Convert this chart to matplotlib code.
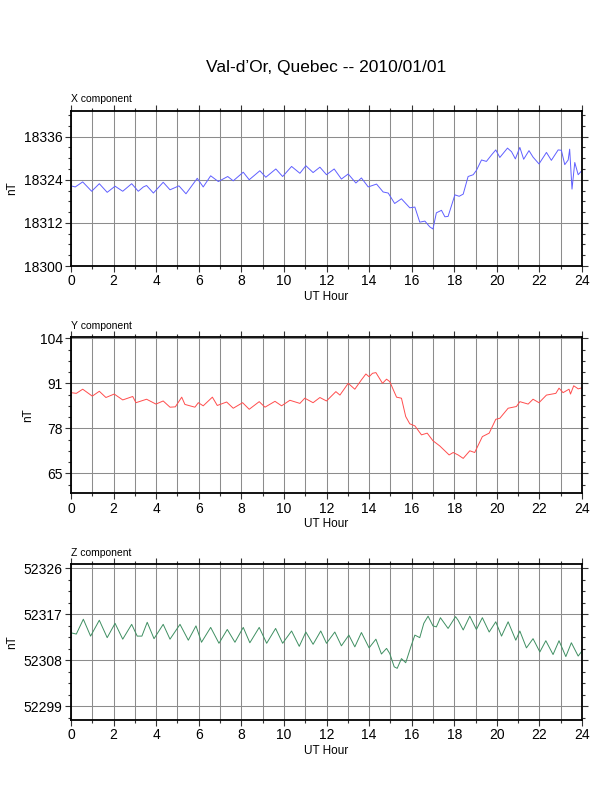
import matplotlib
matplotlib.use("Agg")
import matplotlib.pyplot as plt
from matplotlib.ticker import MultipleLocator, AutoMinorLocator

plt.rcParams['font.family'] = ['Liberation Sans', 'DejaVu Sans']

# X component (nT), hour / value pairs
x_hours = [0.0, 0.2, 0.55, 0.97, 1.33, 1.7, 2.07, 2.43, 2.85, 3.16, 3.4, 3.55, 3.87,
           4.33, 4.65, 5.07, 5.4, 5.93, 6.21, 6.56, 6.92, 7.36, 7.62, 8.09, 8.37,
           8.87, 9.15, 9.62, 9.94, 10.36, 10.75, 11.03, 11.37, 11.69, 12.0, 12.36,
           12.7, 13.02, 13.38, 13.64, 13.96, 14.35, 14.66, 14.9, 15.2, 15.52, 15.91,
           16.15, 16.38, 16.62, 16.85, 17.0, 17.16, 17.4, 17.56, 17.71, 18.03, 18.23,
           18.42, 18.65, 18.89, 19.04, 19.28, 19.51, 19.75, 19.95, 20.14, 20.5, 20.69,
           20.87, 21.08, 21.26, 21.51, 21.7, 21.98, 22.33, 22.56, 22.88, 23.03, 23.19,
           23.35, 23.42, 23.53, 23.66, 23.82, 24.0]
x_vals = [18322.3, 18322.0, 18323.4, 18320.8, 18322.9, 18320.5, 18322.2, 18320.8, 18322.9,
          18320.8, 18322.0, 18322.4, 18320.3, 18323.3, 18321.2, 18322.3, 18320.1, 18324.4,
          18322.0, 18325.1, 18323.5, 18324.9, 18323.7, 18326.1, 18324.0, 18326.5, 18324.7,
          18327.0, 18324.9, 18327.7, 18325.8, 18327.9, 18326.0, 18327.5, 18325.4, 18327.0,
          18324.2, 18325.6, 18323.1, 18324.5, 18322.0, 18322.8, 18320.6, 18320.3, 18317.4,
          18318.7, 18316.2, 18316.4, 18312.2, 18312.5, 18310.9, 18310.3, 18314.8, 18315.5,
          18313.7, 18313.8, 18319.8, 18319.4, 18320.0, 18324.9, 18325.4, 18326.6, 18329.5,
          18329.1, 18330.9, 18332.3, 18330.2, 18332.8, 18331.8, 18329.8, 18333.0, 18329.7,
          18332.1, 18330.3, 18328.4, 18331.6, 18329.4, 18332.3, 18332.2, 18328.2, 18329.5,
          18332.5, 18321.4, 18328.8, 18325.4, 18326.6]

# Y component (nT)
y_hours = [0.0, 0.25, 0.55, 1.0, 1.33, 1.64, 2.03, 2.43, 2.9, 3.05, 3.55, 3.99, 4.33,
           4.65, 4.9, 5.2, 5.35, 5.82, 5.98, 6.21, 6.64, 6.87, 7.31, 7.62, 8.06, 8.37,
           8.84, 9.11, 9.58, 9.89, 10.28, 10.75, 10.98, 11.37, 11.69, 12.0, 12.44, 12.63,
           13.02, 13.33, 13.64, 13.85, 14.0, 14.16, 14.32, 14.63, 14.82, 14.97, 15.29,
           15.52, 15.72, 15.91, 16.15, 16.46, 16.73, 17.0, 17.32, 17.76, 17.95, 18.18,
           18.42, 18.73, 18.96, 19.32, 19.64, 19.95, 20.14, 20.53, 20.92, 21.08, 21.47,
           21.7, 21.98, 22.33, 22.77, 22.92, 23.11, 23.39, 23.46, 23.61, 23.82, 24.0]
y_vals = [88.3, 88.1, 89.3, 87.3, 88.7, 86.9, 87.9, 86.2, 87.2, 85.4, 86.4, 85.0, 85.9,
          84.1, 84.2, 87.0, 84.9, 84.1, 85.4, 84.5, 87.0, 84.6, 85.6, 83.8, 85.4, 83.5,
          85.7, 84.1, 85.8, 84.5, 86.1, 85.2, 86.7, 85.4, 86.9, 85.9, 88.6, 87.6, 91.0,
          89.3, 92.0, 93.7, 92.9, 93.9, 94.1, 91.0, 92.2, 91.5, 87.0, 86.7, 81.4, 79.3,
          78.7, 76.1, 76.6, 74.4, 72.9, 70.3, 71.0, 70.3, 69.3, 71.5, 71.0, 75.6, 76.6,
          80.6, 80.9, 83.8, 84.3, 85.7, 85.0, 86.4, 85.4, 87.6, 88.1, 89.6, 88.3, 89.3,
          87.9, 90.3, 89.4, 89.7]

# Z component (nT)
z_hours = [0.0, 0.25, 0.58, 0.92, 1.33, 1.7, 2.07, 2.43, 2.85, 3.11, 3.33, 3.58, 3.9,
           4.33, 4.65, 5.12, 5.51, 5.87, 6.13, 6.56, 6.95, 7.34, 7.7, 8.09, 8.4, 8.84,
           9.19, 9.61, 9.94, 10.36, 10.72, 11.03, 11.37, 11.73, 12.0, 12.39, 12.7,
           13.05, 13.33, 13.64, 14.0, 14.32, 14.58, 14.82, 14.97, 15.18, 15.32, 15.52,
           15.72, 15.96, 16.15, 16.38, 16.57, 16.77, 17.0, 17.16, 17.35, 17.71, 18.06,
           18.18, 18.42, 18.73, 19.04, 19.32, 19.64, 19.95, 20.22, 20.53, 20.89, 21.08,
           21.39, 21.7, 22.02, 22.3, 22.64, 22.92, 23.24, 23.5, 23.82, 24.0]
z_vals = [52313.35, 52313.1, 52316.0, 52312.7, 52315.8, 52312.4, 52315.2, 52312.1,
          52315.0, 52312.7, 52312.7, 52315.4, 52312.2, 52315.0, 52312.1, 52315.0,
          52311.9, 52314.7, 52311.5, 52314.4, 52311.3, 52314.0, 52311.5, 52314.4,
          52311.4, 52314.4, 52311.3, 52314.2, 52311.3, 52313.7, 52310.7, 52313.5,
          52311.1, 52313.7, 52311.3, 52313.5, 52310.8, 52312.9, 52310.6, 52313.4,
          52310.4, 52312.1, 52309.2, 52310.3, 52309.3, 52306.7, 52306.4, 52308.3,
          52307.5, 52310.6, 52312.9, 52312.4, 52315.2, 52316.6, 52314.7, 52314.5,
          52316.3, 52314.2, 52316.5, 52315.8, 52313.9, 52316.6, 52314.0, 52316.3,
          52313.5, 52315.5, 52312.7, 52315.5, 52311.9, 52313.7, 52310.4, 52312.2,
          52309.6, 52311.8, 52309.1, 52311.8, 52308.7, 52311.4, 52308.8, 52309.8]

panels = [
    ("X component", x_hours, x_vals, "#5f5fff", (18300, 18343.2), [18300, 18312, 18324, 18336]),
    ("Y component", y_hours, y_vals, "#ff4d4d", (59.2, 104.3), [65, 78, 91, 104]),
    ("Z component", z_hours, z_vals, "#3f8f62", (52296.3, 52326.8), [52299, 52308, 52317, 52326]),
]
# axes rectangles (left, bottom, width, height) in figure fraction
rects = [
    (0.116, 0.6641, 0.835, 0.1961),
    (0.116, 0.3771, 0.835, 0.1970),
    (0.116, 0.0909, 0.835, 0.1970),
]

fig = plt.figure(figsize=(6.12, 7.92), dpi=100)
fig.text(0.533, 0.915, "Val-d\u2019Or, Quebec -- 2010/01/01", ha='center', va='center', fontsize=12.5)

for (name, hrs, vals, color, ylim, yticks), rect in zip(panels, rects):
    ax = fig.add_axes(rect)
    ax.plot(hrs, vals, color=color, lw=0.7)
    ax.set_xlim(0, 24)
    ax.set_ylim(*ylim)
    ax.xaxis.set_major_locator(MultipleLocator(2))
    ax.xaxis.set_minor_locator(MultipleLocator(1))
    ax.set_yticks(yticks)
    ax.yaxis.set_minor_locator(AutoMinorLocator(4))
    ax.grid(True, which='both', axis='x', color='#8c8c8c', lw=0.75)
    ax.grid(True, which='major', axis='y', color='#8c8c8c', lw=0.75)
    ax.tick_params(which='both', direction='out', top=True, right=True, color='#333333',
                   labelsize=10, pad=2)
    ax.tick_params(which='major', length=4, width=0.8)
    ax.tick_params(which='minor', length=2, width=0.8)
    for s in ax.spines.values():
        s.set_linewidth(1.3)
    ax.set_xlabel("UT Hour", fontsize=8.5, labelpad=2)
    ax.set_ylabel("nT", fontsize=8.5, labelpad=4)
    ax.annotate(name, xy=(0, 1), xycoords='axes fraction', xytext=(0, 6),
                textcoords='offset points', ha='left', va='baseline', fontsize=7.5)

fig.savefig("out.png", dpi=100)
